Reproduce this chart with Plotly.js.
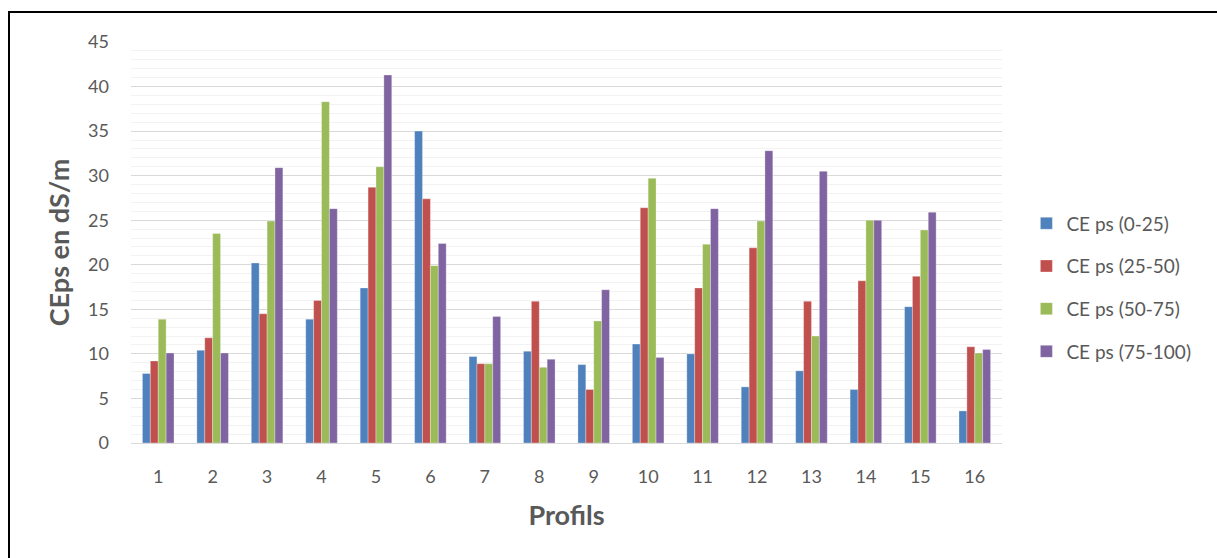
<!DOCTYPE html>
<html>
<head>
<meta charset="utf-8">
<script src="https://cdn.plot.ly/plotly-3.0.1.min.js"></script>
<style>
html,body{margin:0;padding:0;background:#fff;}
#wrap{position:relative;width:1217px;height:558px;overflow:hidden;}
#chart{position:absolute;left:0;top:0;width:1217px;height:558px;}
#frame{position:absolute;left:8px;top:11px;width:1300px;height:700px;border-left:2px solid #000;border-top:2px solid #000;pointer-events:none;}
</style>
</head>
<body>
<div id="wrap"><div id="chart"></div><div id="frame"></div></div>
<script>
const categories = ["1","2","3","4","5","6","7","8","9","10","11","12","13","14","15","16"];
const ce_0_25   = [7.8, 10.4, 20.2, 13.9, 17.4, 35.0, 9.7, 10.3, 8.8, 11.1, 10.0, 6.3, 8.1, 6.0, 15.3, 3.6];
const ce_25_50  = [9.2, 11.8, 14.5, 16.0, 28.7, 27.4, 8.9, 15.9, 6.0, 26.4, 17.4, 21.9, 15.9, 18.2, 18.7, 10.8];
const ce_50_75  = [13.9, 23.5, 24.9, 38.3, 31.0, 19.9, 8.9, 8.5, 13.7, 29.7, 22.3, 24.9, 12.0, 25.0, 23.9, 10.1];
const ce_75_100 = [10.1, 10.1, 30.9, 26.3, 41.3, 22.4, 14.2, 9.4, 17.2, 9.6, 26.3, 32.8, 30.5, 25.0, 25.9, 10.5];
const seriesNames = ["CE ps (0-25)", "CE ps (25-50)", "CE ps (50-75)", "CE ps (75-100)"];
const seriesColors = ["#4F81BD", "#C0504D", "#9BBB59", "#8064A2"];
const seriesValues = [ce_0_25, ce_25_50, ce_50_75, ce_75_100];

const font = "Lato, 'Open Sans', sans-serif";
const traces = seriesValues.map((vals, i) => ({
  type: "bar",
  x: categories,
  y: vals,
  name: seriesNames[i],
  legendgroup: "g" + i,
  marker: {color: seriesColors[i], line: {color: "rgba(255,255,255,0.6)", width: 0.5}},
  hoverinfo: "x+y+name"
}));

const layout = {
  width: 1217, height: 558,
  margin: {l: 131, r: 215, t: 42, b: 115},
  paper_bgcolor: "#ffffff",
  plot_bgcolor: "#ffffff",
  barmode: "group",
  bargap: 0.42,
  bargroupgap: 0,
  font: {family: font, color: "#595959", size: 18},
  xaxis: {
    type: "category",
    showgrid: false,
    showline: true, linecolor: "#D9D9D9", linewidth: 1,
    ticks: "", tickfont: {size: 18, color: "#595959"},
    ticklabelstandoff: 17,
    title: {text: "Profils", font: {size: 27, color: "#595959", family: font, weight: "bold"}, standoff: 20}
  },
  yaxis: {
    range: [0, 45], dtick: 5, tick0: 0,
    showgrid: true, gridcolor: "#D9D9D9", gridwidth: 1,
    zeroline: false, showline: false,
    minor: {dtick: 1, showgrid: true, gridcolor: "#F2F2F2", gridwidth: 1},
    ticks: "", tickfont: {size: 18, color: "#595959"},
    ticklabelstandoff: 21,
    title: {text: "CEps en dS/m", font: {size: 27, color: "#595959", family: font, weight: "bold"}, standoff: 10}
  },
  showlegend: true,
  legend: {
    x: 1.028, xanchor: "left", y: 0.595, yanchor: "top",
    font: {size: 19, color: "#595959", family: font},
    tracegroupgap: 15,
    bgcolor: "rgba(0,0,0,0)"
  }
};

Plotly.newPlot("chart", traces, layout, {displayModeBar: false, staticPlot: true});
</script>
</body>
</html>
